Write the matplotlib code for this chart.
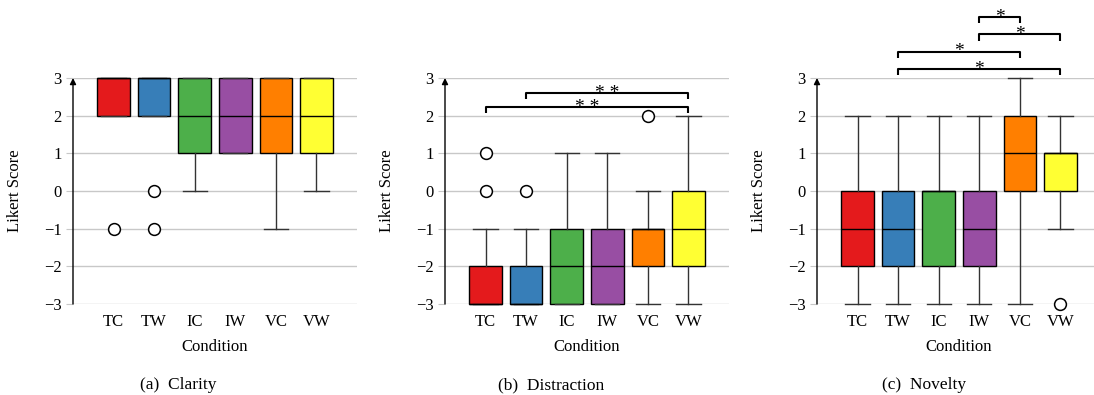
import matplotlib.pyplot as plt

plt.rcParams['font.family'] = ['Liberation Serif', 'DejaVu Serif']
plt.rcParams['font.size'] = 12

conditions = ['TC', 'TW', 'IC', 'IW', 'VC', 'VW']
colors = ['#e41a1c', '#377eb8', '#4daf4a', '#984ea3', '#ff7f00', '#ffff33']

# box statistics (Likert -3..3)
clarity_q1 = [2, 2, 1, 1, 1, 1]
clarity_med = [3, 3, 2, 2, 2, 2]
clarity_q3 = [3, 3, 3, 3, 3, 3]
clarity_lo = [2, 2, 0, 1, -1, 0]
clarity_hi = [3, 3, 3, 3, 3, 3]
clarity_fliers = [[-1], [0, -1], [], [], [], []]

distraction_q1 = [-3, -3, -3, -3, -2, -2]
distraction_med = [-3, -3, -2, -2, -1, -1]
distraction_q3 = [-2, -2, -1, -1, -1, 0]
distraction_lo = [-3, -3, -3, -3, -3, -3]
distraction_hi = [-1, -1, 1, 1, 0, 2]
distraction_fliers = [[0, 1], [0], [], [], [2], []]

novelty_q1 = [-2, -2, -2, -2, 0, 0]
novelty_med = [-1, -1, 0, -1, 1, 1]
novelty_q3 = [0, 0, 0, 0, 2, 1]
novelty_lo = [-3, -3, -3, -3, -3, -1]
novelty_hi = [2, 2, 2, 2, 3, 2]
novelty_fliers = [[], [], [], [], [], [-3]]

# significance brackets: (from, to, label), bottom to top
distraction_sig = [('TC', 'VW', '* *'), ('TW', 'VW', '* *')]
novelty_sig = [('TW', 'VW', '*'), ('TW', 'VC', '*'), ('IW', 'VW', '*'), ('IW', 'VC', '*')]

panels = [
    ('(a)  Clarity', clarity_q1, clarity_med, clarity_q3, clarity_lo, clarity_hi, clarity_fliers, [], 0, 0),
    ('(b)  Distraction', distraction_q1, distraction_med, distraction_q3, distraction_lo, distraction_hi,
     distraction_fliers, distraction_sig, 2.23, 0.37),
    ('(c)  Novelty', novelty_q1, novelty_med, novelty_q3, novelty_lo, novelty_hi, novelty_fliers,
     novelty_sig, 3.24, 0.46),
]

W, H = 1094, 395
fig = plt.figure(figsize=(W / 100, H / 100), dpi=100)

lefts = [73, 445, 817]
captions_x = [178, 551, 924]
grid_c = '#c8c8c8'

for i, (cap, q1, med, q3, lo, hi, fl, sig, base, step) in enumerate(panels):
    ax = fig.add_axes([lefts[i] / W, 1 - 304 / H, 284 / W, 226 / H])
    stats = []
    for j, c in enumerate(conditions):
        stats.append(dict(label=c, q1=q1[j], med=med[j], q3=q3[j],
                          whislo=lo[j], whishi=hi[j], fliers=fl[j]))
    pos = list(range(1, len(conditions) + 1))
    res = ax.bxp(stats, positions=pos, widths=0.8, capwidths=0.6, patch_artist=True,
                 boxprops=dict(edgecolor='black', linewidth=1.0),
                 medianprops=dict(color='black', linewidth=1.0),
                 whiskerprops=dict(color='#333333', linewidth=1.0),
                 capprops=dict(color='#333333', linewidth=1.0),
                 flierprops=dict(marker='o', markerfacecolor='white', markeredgecolor='black',
                                 markersize=8.5, markeredgewidth=1.1))
    for patch, col in zip(res['boxes'], colors):
        patch.set_facecolor(col)
    for key in res:
        for art in res[key]:
            art.set_clip_on(False)
            art.set_zorder(3)

    ax.set_xlim(0, 7)
    ax.set_ylim(-3, 3)
    ax.set_yticks(range(-3, 4))
    ax.yaxis.grid(True, color=grid_c, linewidth=1.0)
    ax.set_axisbelow(True)
    for s in ax.spines.values():
        s.set_visible(False)
    ax.tick_params(axis='y', length=5, color=grid_c, pad=3, labelsize=12)
    ax.tick_params(axis='x', length=0, pad=7, labelsize=12)
    ax.annotate('', xy=(0, 3), xytext=(0, -3), xycoords='data',
                arrowprops=dict(arrowstyle='-|>', color='black', lw=1.0,
                                mutation_scale=9, shrinkA=0, shrinkB=0),
                annotation_clip=False, zorder=4)

    ax.set_ylabel('Likert Score', fontsize=12)
    ax.yaxis.set_label_coords(-0.176, 0.5)
    ax.set_xlabel('Condition', fontsize=12)
    ax.xaxis.set_label_coords(0.5, -0.155)

    for k, (a, b, lab) in enumerate(sig):
        xa = conditions.index(a) + 1
        xb = conditions.index(b) + 1
        y = base + k * step
        ax.plot([xa, xa, xb, xb], [y - 0.17, y, y, y - 0.17], color='black', lw=1.5,
                clip_on=False, solid_capstyle='butt')
        ax.annotate(lab, xy=((xa + xb) / 2, y), xytext=(0, -3.5), textcoords='offset points',
                    ha='center', va='baseline', fontsize=14, annotation_clip=False)

    fig.text(captions_x[i] / W, 1 - 385 / H, cap, ha='center', va='center', fontsize=12.5)

fig.savefig('out.png', dpi=100)
